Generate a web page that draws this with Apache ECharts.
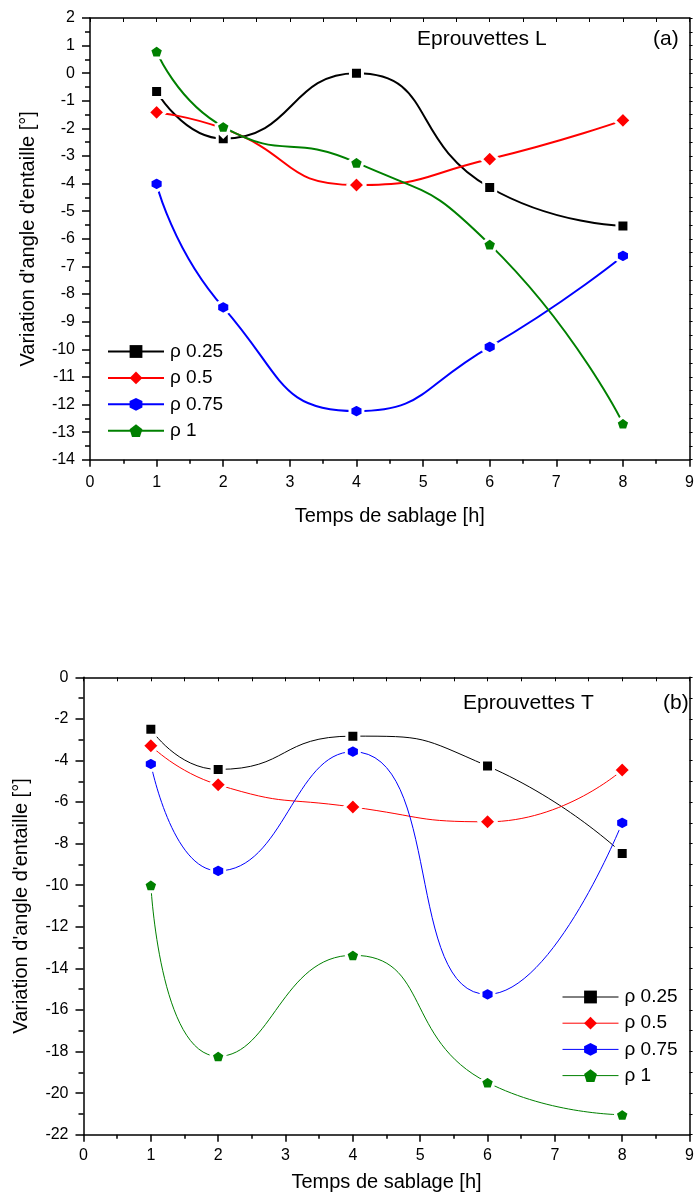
<!DOCTYPE html>
<html>
<head>
<meta charset="utf-8">
<script src="https://cdn.jsdelivr.net/npm/echarts@6/dist/echarts.min.js"></script>
<style>
html,body{margin:0;padding:0;background:#fff;}
#chart{width:697px;height:1204px;}
</style>
</head>
<body>
<div id="chart"></div>
<script>
// ---- data ----
const hours = [1, 2, 4, 6, 8];
const seriesNames = ['ρ 0.25', 'ρ 0.5', 'ρ 0.75', 'ρ 1'];
// (a) Eprouvettes L
const rho025L = [-0.66, -2.37, 0.0, -4.14, -5.53];
const rho05L  = [-1.42, -2.0, -4.05, -3.11, -1.71];
const rho075L = [-4.01, -8.48, -12.24, -9.91, -6.62];
const rho1L   = [0.79, -1.94, -3.24, -6.2, -12.69];
// (b) Eprouvettes T
const rho025T = [-2.5, -4.43, -2.83, -4.27, -8.47];
const rho05T  = [-3.29, -5.17, -6.24, -6.95, -4.46];
const rho075T = [-4.17, -9.31, -3.58, -15.25, -7.0];
const rho1T   = [-10.0, -18.23, -13.37, -19.49, -21.04];

const colors = ['#000000', '#ff0000', '#0000ff', '#008000'];
const symbols = [
  'rect',
  'diamond',
  'path://M50,0 L93,25 L93,75 L50,100 L7,75 L7,25 Z',
  'path://M50,0 L100,38 L81,100 L19,100 L0,38 Z'
];
const symSizes = [[12, 12], [17, 17], [13, 14], [14, 13]];
const FONT = '"Liberation Sans", Arial, sans-serif';

function pairs(ys) { return hours.map((h, i) => [h, ys[i]]); }

function makeSeries(dataSets, gridIdx, lw) {
  return dataSets.map((ys, k) => ({
    name: seriesNames[k],
    type: 'line',
    xAxisIndex: gridIdx * 2,
    yAxisIndex: gridIdx * 2,
    data: pairs(ys),
    smooth: 0.55,
    symbol: symbols[k],
    symbolSize: symSizes[k],
    showAllSymbol: true,
    lineStyle: { color: colors[k], width: lw },
    itemStyle: { color: colors[k], borderColor: '#ffffff', borderWidth: 3 },
    emphasis: { disabled: true },
    z: 2 + k
  }));
}

const axisLineStyle = { color: '#000', width: 1.5 };

function xAxes(gridIdx, labelMargin, nameGap) {
  return [
    {
      type: 'value', gridIndex: gridIdx, position: 'bottom',
      min: 0, max: 9, interval: 1,
      name: 'Temps de sablage [h]', nameLocation: 'middle', nameGap: nameGap,
      nameTextStyle: { fontFamily: FONT, fontSize: 20, color: '#000' },
      axisLine: { show: true, onZero: false, lineStyle: axisLineStyle },
      axisTick: { show: true, inside: false, length: 7, lineStyle: { color: '#000', width: 1.5 } },
      minorTick: { show: true, splitNumber: 2, length: 4, lineStyle: { color: '#000', width: 1.5 } },
      axisLabel: { show: true, margin: labelMargin, fontFamily: FONT, fontSize: 16, color: '#000' },
      splitLine: { show: false }
    },
    {
      type: 'value', gridIndex: gridIdx, position: 'top',
      min: 0, max: 9, interval: 1,
      axisLine: { show: true, onZero: false, lineStyle: axisLineStyle },
      axisTick: { show: true, inside: true, length: 4, lineStyle: { color: '#000', width: 1 } },
      minorTick: { show: true, splitNumber: 2, length: 4, lineStyle: { color: '#000', width: 1 } },
      axisLabel: { show: false },
      splitLine: { show: false }
    }
  ];
}

function yAxes(gridIdx, min, max, interval, nameGap) {
  return [
    {
      type: 'value', gridIndex: gridIdx, position: 'left',
      min: min, max: max, interval: interval,
      name: "Variation d'angle d'entaille [°]", nameLocation: 'middle', nameGap: nameGap,
      nameRotate: 90,
      nameTextStyle: { fontFamily: FONT, fontSize: 20, color: '#000' },
      axisLine: { show: true, onZero: false, lineStyle: axisLineStyle },
      axisTick: { show: true, inside: false, length: 8, lineStyle: { color: '#000', width: 1.5 } },
      minorTick: { show: true, splitNumber: 2, length: 5, lineStyle: { color: '#000', width: 1.5 } },
      axisLabel: { show: true, margin: 15, fontFamily: FONT, fontSize: 16, color: '#000' },
      splitLine: { show: false }
    },
    {
      type: 'value', gridIndex: gridIdx, position: 'right',
      min: min, max: max, interval: interval,
      axisLine: { show: true, onZero: false, lineStyle: axisLineStyle },
      axisTick: { show: true, inside: false, length: 3, lineStyle: { color: '#000', width: 1 } },
      minorTick: { show: true, splitNumber: 2, length: 3, lineStyle: { color: '#000', width: 1 } },
      axisLabel: { show: false },
      splitLine: { show: false }
    }
  ];
}

const xa = xAxes(0, 15, 47).concat(xAxes(1, 13, 38));
const ya = yAxes(0, -14, 2, 1, 52).concat(yAxes(1, -22, 0, 2, 52));

function legendFor(left, top, lw, gap) {
  return {
    orient: 'vertical',
    left: left, top: top,
    padding: 0,
    itemWidth: 56, itemHeight: 16, itemGap: gap,
    data: seriesNames.slice(),
    textStyle: { fontFamily: FONT, fontSize: 19, color: '#000', padding: [0, 0, 0, 1] },
    itemStyle: { borderWidth: 0 },
    lineStyle: { width: lw },
    selectedMode: false
  };
}

const series = makeSeries([rho025L, rho05L, rho075L, rho1L], 0, 2)
  .concat(makeSeries([rho025T, rho05T, rho075T, rho1T], 1, 1));

const titleStyle = { fontFamily: FONT, fontSize: 21, fontWeight: 'normal', color: '#000' };

const option = {
  animation: false,
  backgroundColor: '#ffffff',
  grid: [
    { left: 90, top: 18, width: 600, height: 441.7, containLabel: false },
    { left: 83.5, top: 677.3, width: 612, height: 457.4, containLabel: false }
  ],
  title: [
    { text: 'Eprouvettes L', left: 417, top: 29, padding: 0, textStyle: titleStyle },
    { text: '(a)', left: 653, top: 29, padding: 0, textStyle: titleStyle },
    { text: 'Eprouvettes T', left: 463, top: 693, padding: 0, textStyle: titleStyle },
    { text: '(b)', left: 663, top: 693, padding: 0, textStyle: titleStyle }
  ],
  legend: [
    legendFor(107, 342, 2, 7.4),
    legendFor(562, 987.5, 1, 7.2)
  ],
  xAxis: xa,
  yAxis: ya,
  series: series
};

const chart = echarts.init(document.getElementById('chart'), null, { renderer: 'canvas' });
chart.setOption(option);
</script>
</body>
</html>
